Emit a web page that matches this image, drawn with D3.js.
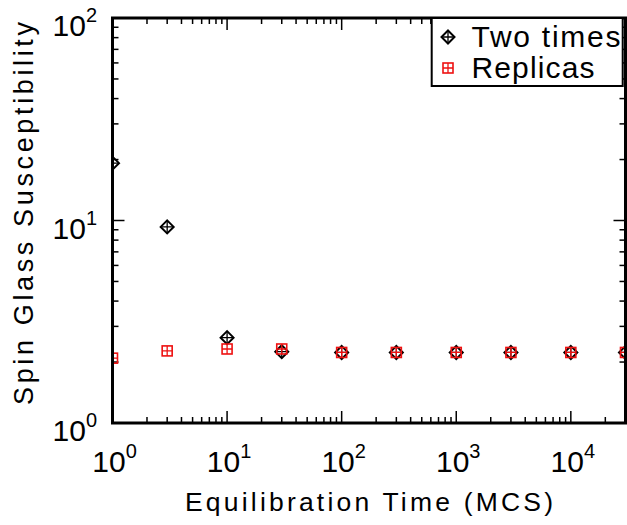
<!DOCTYPE html>
<html>
<head>
<meta charset="utf-8">
<script src="https://cdn.jsdelivr.net/npm/d3@7"></script>
<style>
  html, body { margin: 0; padding: 0; background: #fff; }
  svg { display: block; font-family: "Liberation Sans", Arial, sans-serif; }
</style>
</head>
<body>
<svg id="chart" width="627" height="525"></svg>
<script>
// ---- data ----
const mcsTimes = [1, 3, 10, 30, 100, 300, 1000, 3000, 10000, 30000];
const twoTimes = [19.2, 9.3, 2.64, 2.25, 2.23, 2.23, 2.23, 2.23, 2.23, 2.23];
const replicas = [2.09, 2.27, 2.32, 2.32, 2.23, 2.23, 2.23, 2.23, 2.23, 2.23];
const seriesNames = ["Two times", "Replicas"];
const xTickExps = [0, 1, 2, 3, 4];
const yTickExps = [0, 1, 2];
const xTitle = "Equilibration Time (MCS)";
const yTitle = "Spin Glass Susceptibility";

// ---- layout ----
const W = 627, H = 525;
const m = { left: 112.5, right: 1.5, top: 18, bottom: 102 };
const x = d3.scaleLog().domain([1, 30000]).range([m.left, W - m.right]);
const y = d3.scaleLog().domain([1, 100]).range([H - m.bottom, m.top]);
const x0 = m.left, x1 = W - m.right, y0 = H - m.bottom, y1 = m.top;

const svg = d3.select("#chart");

svg.append("defs").append("clipPath").attr("id", "clip")
  .append("rect").attr("x", x0).attr("y", y1).attr("width", x1 - x0).attr("height", y0 - y1);

// ---- ticks (inward, mirrored on all sides) ----
const majLen = 12, minLen = 6;
const xTicks = [];
for (let e = 0; e <= 4; e++) for (let k = 1; k <= 9; k++) { const v = k * Math.pow(10, e); if (v <= 30000) xTicks.push({ v, major: k === 1 }); }
const yTicks = [];
for (let e = 0; e <= 2; e++) for (let k = 1; k <= 9; k++) { const v = k * Math.pow(10, e); if (v <= 100) yTicks.push({ v, major: k === 1 }); }

const tg = svg.append("g").attr("stroke", "#000").attr("stroke-width", 1.5);
xTicks.forEach(t => {
  const px = x(t.v), L = t.major ? majLen : minLen;
  tg.append("line").attr("x1", px).attr("x2", px).attr("y1", y0).attr("y2", y0 - L);
  tg.append("line").attr("x1", px).attr("x2", px).attr("y1", y1).attr("y2", y1 + L);
});
yTicks.forEach(t => {
  const py = y(t.v), L = t.major ? majLen : minLen;
  tg.append("line").attr("y1", py).attr("y2", py).attr("x1", x0).attr("x2", x0 + L);
  tg.append("line").attr("y1", py).attr("y2", py).attr("x1", x1).attr("x2", x1 - L);
});

// ---- tick labels ----
xTickExps.forEach(e => {
  const t = svg.append("text").attr("x", x(Math.pow(10, e)) + 2).attr("y", y0 + 49)
    .attr("text-anchor", "middle").attr("font-size", 30).attr("fill", "#000");
  t.append("tspan").text("10");
  t.append("tspan").attr("font-size", 20).attr("dy", -14).text(e);
});
yTickExps.forEach(e => {
  const t = svg.append("text").attr("x", 97).attr("y", Math.max(y(Math.pow(10, e)) + 18, 33))
    .attr("text-anchor", "end").attr("font-size", 30).attr("fill", "#000");
  t.append("tspan").text("10");
  t.append("tspan").attr("font-size", 20).attr("dy", -14).text(e);
});

// ---- axis titles ----
svg.append("text").attr("x", 185).attr("y", 510.5)
  .attr("font-size", 26.5).attr("textLength", 368).attr("lengthAdjust", "spacing").text(xTitle);
svg.append("text").attr("transform", `translate(32.5,405) rotate(-90)`)
  .attr("font-size", 27).attr("textLength", 383).attr("lengthAdjust", "spacing").text(yTitle);

// ---- markers ----
function diamond(g, cx, cy) {
  const r = 6.5;
  g.append("path").attr("d", `M${cx},${cy - r}L${cx + r},${cy}L${cx},${cy + r}L${cx - r},${cy}Z`)
    .attr("fill", "none").attr("stroke", "#000").attr("stroke-width", 2);
  g.append("path").attr("d", `M${cx - r},${cy}H${cx + r}M${cx},${cy - r}V${cy + r}`)
    .attr("stroke", "#000").attr("stroke-width", 1.3);
}
function square(g, cx, cy) {
  const r = 5;
  g.append("rect").attr("x", cx - r).attr("y", cy - r).attr("width", 2 * r).attr("height", 2 * r)
    .attr("fill", "none").attr("stroke", "#ee1111").attr("stroke-width", 1.6);
  g.append("path").attr("d", `M${cx - r},${cy}H${cx + r}M${cx},${cy - r}V${cy + r}`)
    .attr("stroke", "#ee1111").attr("stroke-width", 1.3);
}

const pts = svg.append("g").attr("clip-path", "url(#clip)");
const g1 = pts.append("g");
mcsTimes.forEach((t, i) => diamond(g1, x(t), y(twoTimes[i])));
const g2 = pts.append("g");
mcsTimes.forEach((t, i) => square(g2, x(t), y(replicas[i])));

// ---- frame ----
svg.append("rect").attr("x", x0).attr("y", y1).attr("width", x1 - x0).attr("height", y0 - y1)
  .attr("fill", "none").attr("stroke", "#000").attr("stroke-width", 3);

// ---- legend ----
const lg = svg.append("g");
lg.append("rect").attr("x", 431.7).attr("y", y1).attr("width", 191).attr("height", 68)
  .attr("fill", "#fff").attr("stroke", "#000").attr("stroke-width", 2);
diamond(lg, 448, 37);
square(lg, 448, 68);
lg.append("text").attr("x", 471.5).attr("y", 47).attr("font-size", 30)
  .attr("textLength", 149).attr("lengthAdjust", "spacing").text(seriesNames[0]);
lg.append("text").attr("x", 471.5).attr("y", 78).attr("font-size", 30)
  .attr("textLength", 123).attr("lengthAdjust", "spacing").text(seriesNames[1]);
</script>
</body>
</html>
